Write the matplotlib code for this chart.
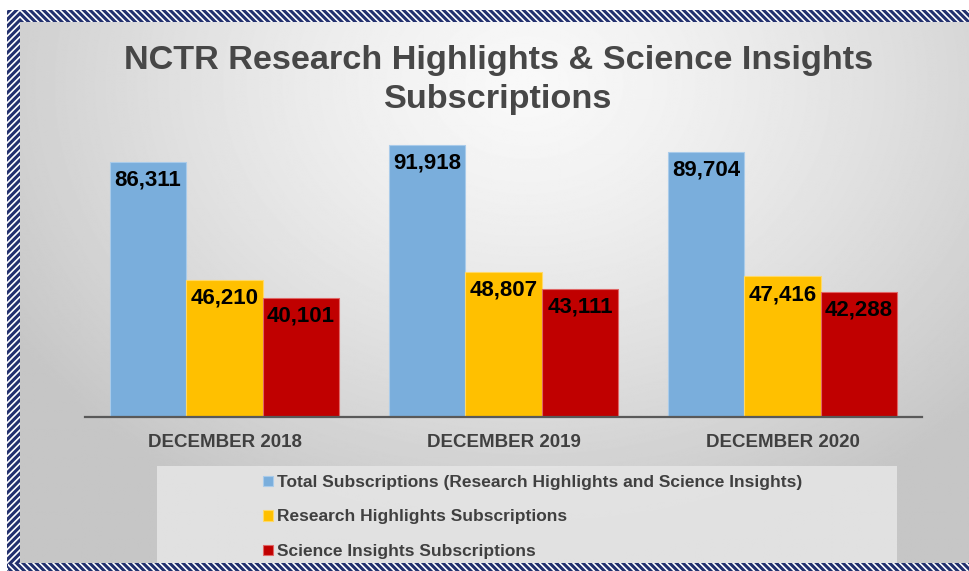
import numpy as np
import matplotlib
matplotlib.use('Agg')
import matplotlib.pyplot as plt
from matplotlib.patches import Rectangle

categories = ['DECEMBER 2018', 'DECEMBER 2019', 'DECEMBER 2020']
series_names = ['Total Subscriptions (Research Highlights and Science Insights)',
                'Research Highlights Subscriptions',
                'Science Insights Subscriptions']
total = [86311, 91918, 89704]
highlights = [46210, 48807, 47416]
insights = [40101, 43111, 42288]
series_values = [total, highlights, insights]
colors = ['#7AAEDC', '#FFC000', '#C00000']
edge_colors = ['#A9CBEA', '#FFD966', '#E06666']
title = 'NCTR Research Highlights & Science Insights\nSubscriptions'

plt.rcParams['font.family'] = ['Liberation Sans', 'DejaVu Sans']
plt.rcParams['hatch.linewidth'] = 2.2

W, H = 969, 571
fig = plt.figure(figsize=(W / 100, H / 100), dpi=100)
fig.patch.set_facecolor('white')

# background with radial gradient
bg = fig.add_axes([0, 0, 1, 1])
bg.set_xlim(0, W)
bg.set_ylim(H, 0)
bg.axis('off')
yy, xx = np.mgrid[0:H, 0:W]
r = np.hypot((xx - 520) / 1.0, (yy - 70) / 0.8)
v = 0.975 - 0.2 * np.clip(r / 620, 0, 1) ** 1.3
bg.imshow(v, cmap='gray', vmin=0, vmax=1, extent=(14, W, 567, 16),
          zorder=0, interpolation='bilinear', aspect='auto')
bg.set_xlim(0, W)
bg.set_ylim(H, 0)

navy = '#22306E'
hatch = '\\' * 5
# top border
bg.add_patch(Rectangle((8, 10), W - 8, 12, facecolor='white', edgecolor=navy,
                       linewidth=0, hatch=hatch, zorder=2))
# left border
bg.add_patch(Rectangle((7, 10), 13, H - 10, facecolor='white', edgecolor=navy,
                       linewidth=0, hatch='/' * 5, zorder=2))
# bottom border
bg.add_patch(Rectangle((8, 563), W - 8, 8, facecolor='white', edgecolor=navy,
                       linewidth=0, hatch=hatch, zorder=2))
# legend box
bg.add_patch(Rectangle((157, 466), 740, 97, facecolor='#E6E6E6', edgecolor='none',
                       alpha=0.85, zorder=1))

# main axes
ax = fig.add_axes([85 / W, (H - 416.5) / H, (922 - 85) / W, (416.5 - 130) / H])
ax.patch.set_alpha(0)
x = np.arange(len(categories))
w = 0.274
handles = []
for i, (vals, c, ec, name) in enumerate(zip(series_values, colors, edge_colors, series_names)):
    bars = ax.bar(x + (i - 1) * w, vals, w, color=c, edgecolor=ec, linewidth=0.8,
                  label=name, zorder=2)
    handles.append(bars)
    for xi, val in zip(x + (i - 1) * w, vals):
        ax.annotate(f'{val:,}', (xi, val), xytext=(0, -13), textcoords='offset points',
                    ha='center', va='center', fontsize=16, fontweight='bold',
                    color='black', zorder=3)

ax.set_xlim(-0.5, 2.5)
ax.set_ylim(0, 97000)
for s in ['top', 'right', 'left']:
    ax.spines[s].set_visible(False)
ax.spines['bottom'].set_color('#595959')
ax.spines['bottom'].set_linewidth(1.6)
ax.spines['bottom'].set_zorder(4)
ax.set_yticks([])
ax.set_xticks(x, categories)
ax.tick_params(axis='x', length=0, pad=12.5, labelsize=13.5, labelcolor='#404040')
for t in ax.get_xticklabels():
    t.set_fontweight('bold')

fig.text(498.5 / W, 1 - 80 / H, title, ha='center', va='center', fontsize=24.7,
         fontweight='bold', color='#474747', linespacing=1.3)

leg = ax.legend(handles=handles, loc='upper left',
                bbox_to_anchor=(263 / W, 1 - 475 / H), bbox_transform=fig.transFigure,
                frameon=False, handlelength=0.55, handleheight=0.55,
                handletextpad=0.25, labelspacing=1.12, borderpad=0, borderaxespad=0,
                prop={'weight': 'bold', 'size': 12.5})
for t in leg.get_texts():
    t.set_color('#404040')

fig.savefig('out.png', dpi=100)
